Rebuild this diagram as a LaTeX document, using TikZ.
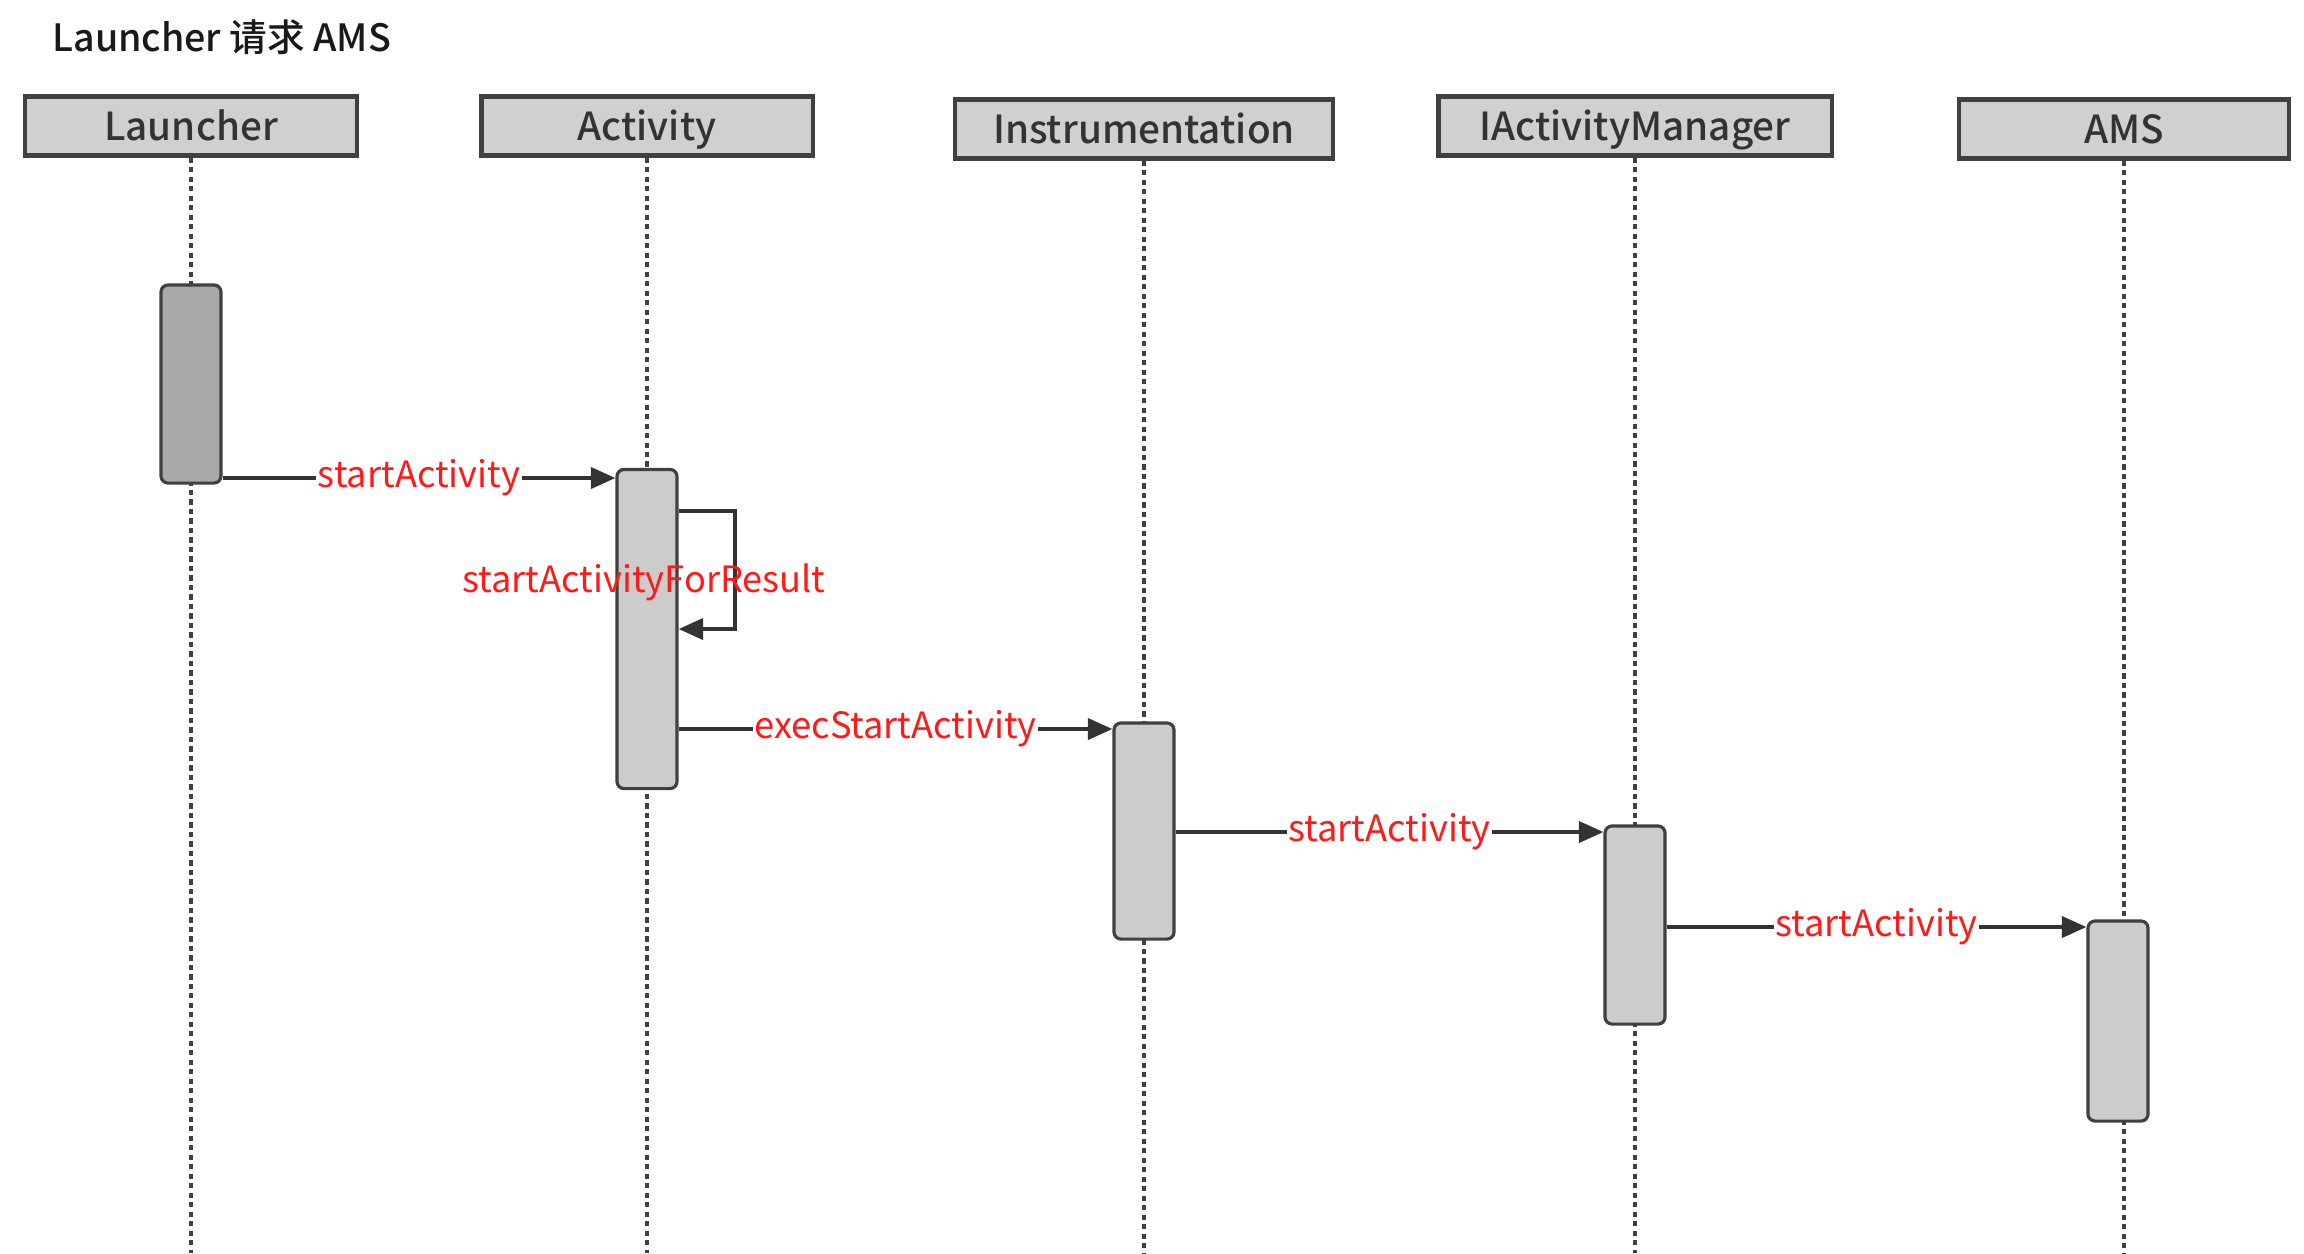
\documentclass[tikz,border=0pt]{standalone}
\usepackage{fontspec}
\setmainfont{Noto Sans CJK SC}
\newfontfamily\medfont{Noto Sans CJK SC Medium}
\usetikzlibrary{arrows.meta}
\definecolor{boxgray}{HTML}{D0D0D0}
\definecolor{bargray}{HTML}{CCCCCC}
\definecolor{darkbar}{HTML}{A9A9A9}
\definecolor{edge}{HTML}{404040}
\definecolor{msgred}{HTML}{FF1A1A}

\begin{document}
\begin{tikzpicture}[x=0.01cm, y=-0.01cm,
		actor/.style={draw=edge, fill=boxgray, line width=1.2pt, minimum height=0.59cm, inner sep=0pt, text height=1.75ex, text depth=0.25ex, text=black!80, font=\medfont\fontsize{11}{13}\selectfont},
		life/.style={draw=edge, line width=1.1pt, dash pattern=on 1.5pt off 1.2pt},
		bar/.style={draw=edge, fill=bargray, line width=0.9pt, rounded corners=2pt, minimum width=0.6cm, inner sep=0pt},
		msg/.style={draw=black!80, line width=1.1pt, -{Triangle[length=7pt,width=6pt]}},
		lbl/.style={text=msgred, fill=white, inner sep=0.5pt, font=\fontsize{10.3}{12}\selectfont}]
				\useasboundingbox (0,0) rectangle (2304,1253);
				
				\node[anchor=west, text=black!90, font=\medfont\fontsize{10.7}{13}\selectfont] (title) at (40,37) {Launcher 请求 AMS};
				
				\node[actor, minimum width=3.32cm] (launcher) at (191,126) {Launcher};
				\node[actor, minimum width=3.31cm] (activity) at (647,126) {Activity};
				\node[actor, minimum width=3.78cm] (instr) at (1144,129) {Instrumentation};
				\node[actor, minimum width=3.93cm] (iam) at (1635,126) {IActivityManager};
				\node[actor, minimum width=3.30cm] (ams) at (2124,129) {AMS};
				
				\draw[life] (launcher.south) -- (launcher.south |- 0,1253);
				\draw[life] (activity.south) -- (activity.south |- 0,1253);
				\draw[life] (instr.south) -- (instr.south |- 0,1253);
				\draw[life] (iam.south) -- (iam.south |- 0,1253);
				\draw[life] (ams.south) -- (ams.south |- 0,1253);
				
				\node[bar, fill=darkbar, minimum height=1.98cm] (lbar) at (launcher |- 0,384) {};
				\node[bar, minimum height=3.19cm] (abar) at (activity |- 0,629) {};
				\node[bar, minimum height=2.16cm] (ibar) at (instr |- 0,831) {};
				\node[bar, minimum height=1.98cm] (mbar) at (iam |- 0,925) {};
				\node[bar, minimum height=2.00cm] (sbar) at (2118,1021) {};
				
				\coordinate (m1) at (0,478);
				\coordinate (s1) at (0,511);
				\coordinate (s2) at (0,629);
				\coordinate (m2) at (0,729);
				\coordinate (m3) at (0,832);
				\coordinate (m4) at (0,927);
				
				\draw[msg] (lbar.east |- m1) -- node[lbl] {startActivity} (abar.west |- m1);
				\draw[msg] (abar.east |- s1) -- (735,511) -- (735,629) -- (abar.east |- s2);
				\node[text=msgred, inner sep=0pt, font=\fontsize{10.3}{12}\selectfont] (selflbl) at (644,582) {startActivityForResult};
				\draw[msg] (abar.east |- m2) -- node[lbl] {execStartActivity} (ibar.west |- m2);
				\draw[msg] (ibar.east |- m3) -- node[lbl] {startActivity} (mbar.west |- m3);
				\draw[msg] (mbar.east |- m4) -- node[lbl] {startActivity} (sbar.west |- m4);
\end{tikzpicture}
\end{document}
